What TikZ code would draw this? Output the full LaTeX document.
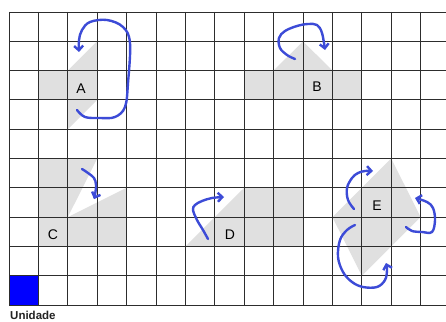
\documentclass[tikz,border=0pt]{standalone}
\usepackage{fontspec}
\setmainfont{Liberation Sans}
\usetikzlibrary{arrows.meta}
\definecolor{pen}{RGB}{60,75,215}
\definecolor{shade}{RGB}{224,224,224}
\definecolor{gridc}{RGB}{45,45,45}
\definecolor{unitblue}{RGB}{0,0,255}
\tikzset{
  lbl/.style={font=\fontsize{14}{14}\selectfont, inner sep=0pt, text=black},
  penarrow/.style={draw=pen, line width=2.4pt, line cap=round, line join=round,
    -{Straight Barb[length=4.5pt,width=9pt]}},
  figfill/.style={fill=shade},
  gridline/.style={draw=gridc, line width=0.9pt}
}
\begin{document}
\begin{tikzpicture}[x=1pt,y=-1pt]
\useasboundingbox (0,0) rectangle (446,321);
\fill[white] (0,0) rectangle (446,321);
\begin{scope}[shift={(9pt,-12pt)}, x=29.4pt, y=-29.3pt]
  % figures
  \fill[figfill] (1,2) -- (2,2) -- (3,1) -- (3,3) -- (2,4) -- (2,3) -- (1,3) -- cycle;
  \fill[figfill] (8,2) -- (9,2) -- (10,1) -- (11,2) -- (12,2) -- (12,3) -- (8,3) -- cycle;
  \fill[figfill] (1,5) -- (3,5) -- (2,7) -- (4,6) -- (4,8) -- (1,8) -- cycle;
  \fill[figfill] (6,8) -- (8,6) -- (10,6) -- (10,8) -- cycle;
  \fill[figfill] (13,5) -- (14,7) -- (12,9) -- (11,7) -- cycle;
  % unit square
  \fill[unitblue] (0,9) rectangle (1,10);
  % grid
  \foreach \i in {0,...,14} \draw[gridline] (\i,0) -- (\i,10);
  \foreach \j in {0,...,10} \draw[gridline] (0,\j) -- (14.87,\j);
\end{scope}
% labels
\node[lbl] (A) at (81,89) {A};
\node[lbl] (B) at (317,87) {B};
\node[lbl] (C) at (53,235) {C};
\node[lbl] (D) at (230,235) {D};
\node[lbl] (E) at (377,206) {E};
\node[anchor=base west, inner sep=0pt, text={rgb,255:red,34;green,34;blue,34},
  font=\bfseries\fontsize{11.5}{11.5}\selectfont] (U) at (10,319) {Unidade};
% rotation arrows
\draw[penarrow] plot[smooth, tension=0.6] coordinates {(77,110) (85,117) (100,118) (115,117) (125,107) (128,83) (130,43) (123,27) (107,20) (90,22) (82,30) (79,40) (79,52)};
\draw[penarrow] plot[smooth, tension=0.6] coordinates {(295,59) (287,55) (280,48) (279,38) (285,31) (297,26) (308,24) (317,25) (322,33) (325,50)};
\draw[penarrow] plot[smooth, tension=0.6] coordinates {(82,169) (88,173) (94,178) (96,185) (95,195) (94,199)};
\draw[penarrow] plot[smooth, tension=0.6] coordinates {(208,239) (203,230) (197,220) (193,210) (195,205) (202,201) (212,198) (224,197)};
\draw[penarrow] plot[smooth, tension=0.6] coordinates {(354,209) (348,200) (347,188) (352,178) (358,173) (365,171) (373,171)};
\draw[penarrow] plot[smooth, tension=0.6] coordinates {(406,227) (412,231) (422,232) (432,232) (435,220) (433,208) (427,202) (415,198)};
\draw[penarrow] plot[smooth, tension=0.6] coordinates {(355,225) (347,230) (340,240) (338,257) (343,272) (352,282) (363,287) (377,287) (385,280) (387,270) (386,263)};
\end{tikzpicture}
\end{document}
